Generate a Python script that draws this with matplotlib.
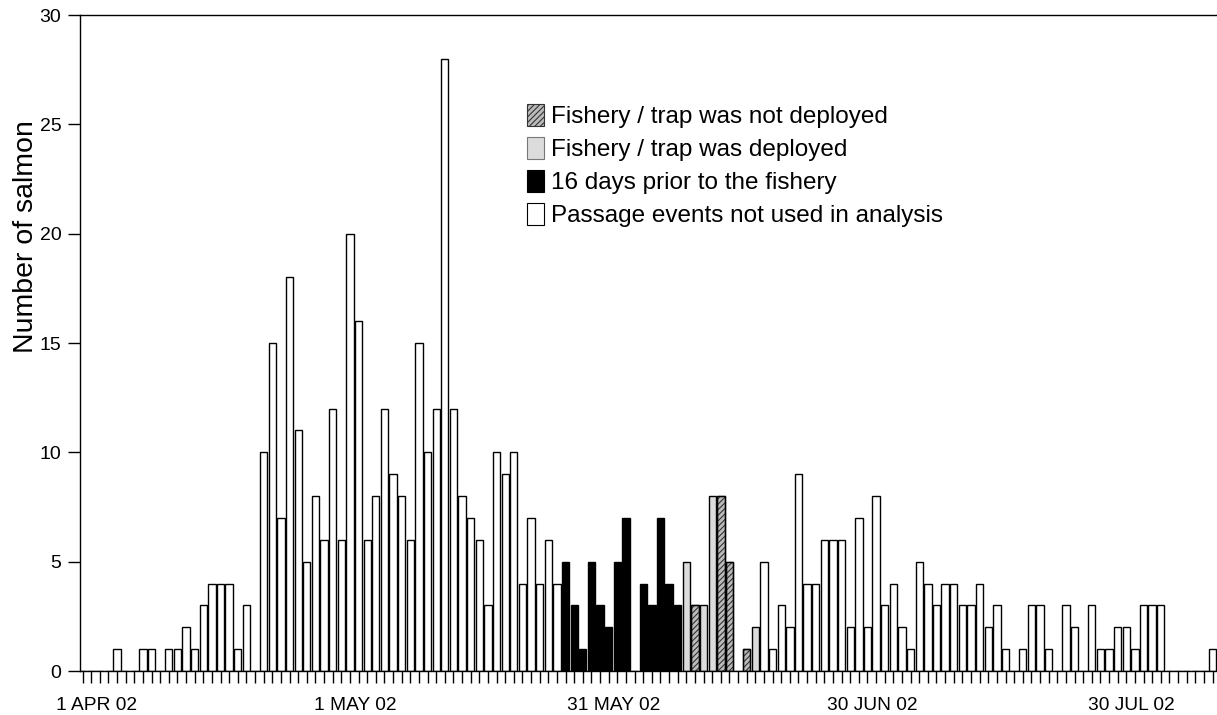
import matplotlib
matplotlib.use('Agg')
import matplotlib.pyplot as plt
from matplotlib.patches import Patch
import numpy as np

plt.rcParams['font.family'] = ['Liberation Sans', 'DejaVu Sans']
plt.rcParams['hatch.linewidth'] = 0.8

# daily salmon passage counts, day 0 = 1 APR 02
counts = [0, 0, 0, 0, 1, 0, 0, 1, 1, 0,
          1, 1, 2, 1, 3, 4, 4, 4, 1, 3,
          0, 10, 15, 7, 18, 11, 5, 8, 6, 12,
          6, 20, 16, 6, 8, 12, 9, 8, 6, 15,
          10, 12, 28, 12, 8, 7, 6, 3, 10, 9,
          10, 4, 7, 4, 6, 4, 5, 3, 1, 5,
          3, 2, 5, 7, 0, 4, 3, 7, 4, 3,
          5, 3, 3, 8, 8, 5, 0, 1, 2, 5,
          1, 3, 2, 9, 4, 4, 6, 6, 6, 2,
          7, 2, 8, 3, 4, 2, 1, 5, 4, 3,
          4, 4, 3, 3, 4, 2, 3, 1, 0, 1,
          3, 3, 1, 0, 3, 2, 0, 3, 1, 1,
          2, 2, 1, 3, 3, 3, 0, 0, 0, 0,
          0, 1]

prior_days = [56, 57, 58, 59, 60, 61, 62, 63, 65, 66, 67, 68, 69]
deployed_days = [70, 72, 73, 78]
not_deployed_days = [71, 74, 75, 77]

date_labels = ['1 APR 02', '1 MAY 02', '31 MAY 02', '30 JUN 02', '30 JUL 02']
date_days = [0, 30, 60, 90, 120]

days = np.arange(len(counts))
counts = np.array(counts)
kind = np.array(['white'] * len(counts), dtype=object)
kind[prior_days] = 'black'
kind[deployed_days] = 'light'
kind[not_deployed_days] = 'hatch'

W, H = 1217, 715
fig = plt.figure(figsize=(W / 100, H / 100), dpi=100)
ax = fig.add_axes([79.5 / W, 44 / H, (1219 - 79.5) / W, 656 / H])

bw = 0.85
m = kind == 'white'
ax.bar(days[m], counts[m], width=bw, color='white', edgecolor='black', linewidth=1)
m = kind == 'black'
ax.bar(days[m], counts[m], width=bw, color='black', edgecolor='black', linewidth=1)
m = kind == 'light'
ax.bar(days[m], counts[m], width=bw, color='#dcdcdc', edgecolor='black', linewidth=1)
m = kind == 'hatch'
ax.bar(days[m], counts[m], width=bw, color='#bbbbbb', edgecolor='#333333', hatch='//////', linewidth=1)
# redraw black outline for hatched bars
ax.bar(days[m], counts[m], width=bw, fill=False, edgecolor='black', linewidth=1)

ax.set_xlim(-0.35, 131.75)
ax.set_ylim(0, 30)
ax.spines['right'].set_visible(False)
for s in ['left', 'top', 'bottom']:
    ax.spines[s].set_linewidth(1)

ax.set_yticks(range(0, 31, 5))
ax.tick_params(axis='y', length=8.5, width=1, pad=4.5, labelsize=14)

ax.set_xticks(days)
ax.set_xticklabels([])
ax.tick_params(axis='x', which='major', length=8.5, width=1, direction='out')
ax.set_xticks([d + 1.6 for d in date_days], minor=True)
ax.set_xticklabels(date_labels, minor=True)
ax.tick_params(axis='x', which='minor', length=0, pad=18.5, labelsize=13.8)

fig.text(26 / W, 1 - 237 / H, 'Number of salmon', rotation=90, ha='center', va='center', fontsize=20.5)

handles = [Patch(facecolor='#bbbbbb', edgecolor='#333333', hatch='//////', linewidth=0.8),
           Patch(facecolor='#dcdcdc', edgecolor='#777777', linewidth=0.8),
           Patch(facecolor='black', edgecolor='black', linewidth=0.8),
           Patch(facecolor='white', edgecolor='black', linewidth=0.8)]
labels = ['Fishery / trap was not deployed', 'Fishery / trap was deployed',
          '16 days prior to the fishery', 'Passage events not used in analysis']
ax.legend(handles, labels, loc='upper left', bbox_to_anchor=(527 / W, 1 - 104 / H),
          bbox_transform=fig.transFigure, frameon=False, fontsize=17.5,
          handlelength=0.7, handleheight=1.0, handletextpad=0.3,
          labelspacing=0.36, borderpad=0, borderaxespad=0)

fig.savefig('out.png', dpi=100)
